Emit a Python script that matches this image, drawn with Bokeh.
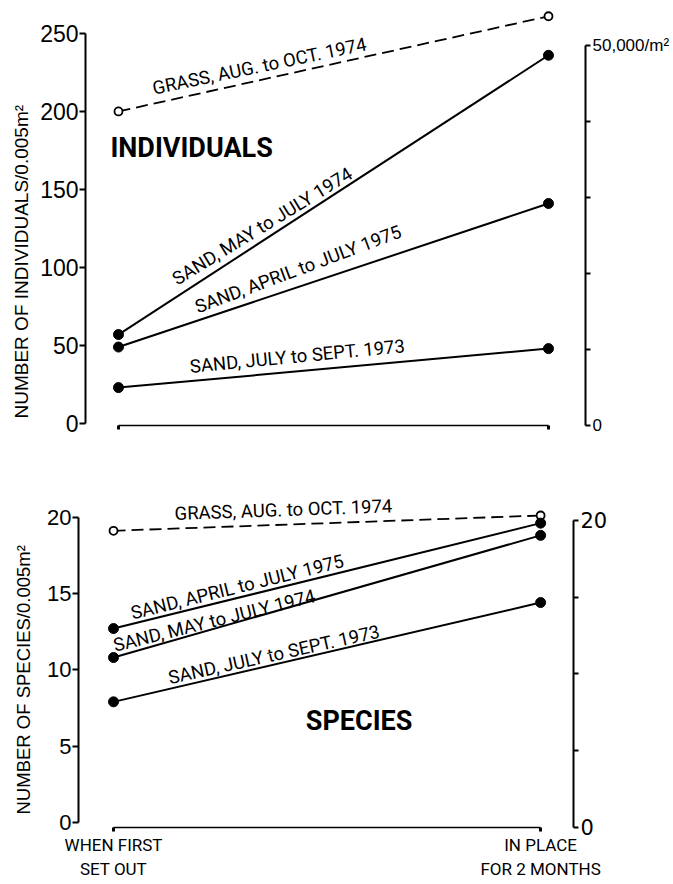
from bokeh.plotting import figure
from bokeh.models import Range1d, LinearAxis, Label, FixedTicker, Title
from bokeh.embed import file_html
from bokeh.resources import INLINE

# ---------------- data ----------------
stages = [0, 1]
stage_labels = ["WHEN FIRST\nSET OUT", "IN PLACE\nFOR 2 MONTHS"]

series_names = ["GRASS, AUG. to OCT. 1974", "SAND, MAY to JULY 1974",
                "SAND, APRIL to JULY 1975", "SAND, JULY to SEPT. 1973"]

ind_grass = [200, 261]
ind_may74 = [57, 236]
ind_apr75 = [49, 141]
ind_jul73 = [23, 48]

spp_grass = [19.1, 20.1]
spp_apr75 = [12.7, 19.6]
spp_may74 = [10.8, 18.8]
spp_jul73 = [7.9, 14.4]

ind_ticks = [0, 50, 100, 150, 200, 250]
dens_ticks = [0, 10000, 20000, 30000, 40000, 50000]
dens_labels = {0: "0", 10000: "", 20000: "", 30000: "", 40000: "", 50000: "50,000/m\u00b2"}
spp_ticks = [0, 5, 10, 15, 20]

LBL = "Roboto"
SANS = "Liberation Sans"
ROUND = "DejaVu Sans"
W = 673


def style_left(ax, size):
    ax.axis_line_width = 2
    ax.major_tick_line_width = 2
    ax.major_tick_in = 0
    ax.major_tick_out = 6
    ax.minor_tick_line_color = None
    ax.major_label_text_font = SANS
    ax.major_label_text_font_size = size
    ax.major_label_text_color = "black"
    ax.major_label_standoff = 1


def style_right(ax, font, size):
    ax.axis_line_width = 2
    ax.major_tick_line_width = 2
    ax.major_tick_in = 0
    ax.major_tick_out = 5
    ax.minor_tick_line_color = None
    ax.major_label_text_font = font
    ax.major_label_text_font_size = size
    ax.major_label_text_color = "black"
    ax.major_label_standoff = 2


def style_bottom(ax):
    ax.axis_line_width = 1.5
    ax.major_tick_line_width = 3
    ax.major_tick_in = 0
    ax.major_tick_out = 4
    ax.minor_tick_line_color = None
    ax.major_label_text_color = "black"


def add_text(p, x, y, text, angle, size="18.5px", font=LBL, style="normal"):
    p.add_layout(Label(x=x, y=y, text=text, angle=angle, angle_units="deg",
                       text_align="center", text_baseline="middle",
                       text_font=font, text_font_size=size,
                       text_font_style=style, text_color="black"))


def add_ytitle(p, text, size, offset, standoff):
    p.add_layout(Title(text=text, align="left", offset=offset, standoff=standoff,
                       text_font=SANS, text_font_size=size,
                       text_font_style="normal", text_color="black"), "left")


# ---------------- top panel: individuals ----------------
p1 = figure(width=W, height=440, output_backend="svg", toolbar_location=None,
            x_range=Range1d(-0.0767, 1.0861), y_range=Range1d(-1.28, 264.7),
            x_axis_type=None, y_axis_type=None,
            min_border_left=85, min_border_right=88,
            min_border_top=10, min_border_bottom=15)
p1.outline_line_color = None
p1.extra_y_ranges = {"dens": Range1d(-1, 54605)}

ly = LinearAxis(ticker=FixedTicker(ticks=ind_ticks), bounds=(0, 250))
style_left(ly, "23px")
p1.add_layout(ly, "left")
add_ytitle(p1, "NUMBER OF INDIVIDUALS/0.005m\u00b2", "19px", 7, 12)

ry = LinearAxis(y_range_name="dens", ticker=FixedTicker(ticks=dens_ticks),
                bounds=(0, 50000), major_label_overrides=dens_labels)
style_right(ry, SANS, "17px")
p1.add_layout(ry, "right")

bx = LinearAxis(ticker=FixedTicker(ticks=stages), bounds=(0, 1),
                major_label_overrides={0: "", 1: ""})
style_bottom(bx)
bx.major_label_text_font_size = "1px"
p1.add_layout(bx, "below")

p1.line(stages, ind_grass, line_color="black", line_width=1.8, line_dash="12 6")
p1.scatter(stages, ind_grass, size=8, fill_color="white", line_color="black", line_width=1.8)
for vals in (ind_may74, ind_apr75, ind_jul73):
    p1.line(stages, vals, line_color="black", line_width=2)
    p1.scatter(stages, vals, size=10, fill_color="black", line_color="black")

add_text(p1, 0.328, 228.8, series_names[0], 11.8)
add_text(p1, 0.335, 126.3, series_names[1], 31.5)
add_text(p1, 0.418, 98.7, series_names[2], 20.5)
add_text(p1, 0.416, 42.9, series_names[3], 5.5)
add_text(p1, 0.170, 176.3, "INDIVIDUALS", 0, size="27px", style="bold")

# ---------------- bottom panel: species ----------------
p2 = figure(width=W, height=441, output_backend="svg", toolbar_location=None,
            x_range=Range1d(-0.082, 1.077), y_range=Range1d(-0.326, 21.41),
            x_axis_type=None, y_axis_type=None,
            min_border_left=78, min_border_right=100,
            min_border_top=55, min_border_bottom=53)
p2.outline_line_color = None
p2.extra_y_ranges = {"spp_r": Range1d(-0.001, 21.62)}

ly2 = LinearAxis(ticker=FixedTicker(ticks=spp_ticks), bounds=(0, 20))
style_left(ly2, "22px")
p2.add_layout(ly2, "left")
add_ytitle(p2, "NUMBER OF SPECIES/0.005m\u00b2", "18.5px", 13, 21)

ry2 = LinearAxis(y_range_name="spp_r", ticker=FixedTicker(ticks=spp_ticks),
                 bounds=(0, 20),
                 major_label_overrides={5: "", 10: "", 15: ""})
style_right(ry2, ROUND, "21px")
p2.add_layout(ry2, "right")

bx2 = LinearAxis(ticker=FixedTicker(ticks=stages), bounds=(0, 1),
                 major_label_overrides={0: stage_labels[0], 1: stage_labels[1]})
style_bottom(bx2)
bx2.major_label_text_font = LBL
bx2.major_label_text_font_size = "17px"
bx2.major_label_standoff = 3
p2.add_layout(bx2, "below")

p2.line(stages, spp_grass, line_color="black", line_width=1.8, line_dash="12 6")
p2.scatter(stages, spp_grass, size=8, fill_color="white", line_color="black", line_width=1.8)
for vals in (spp_apr75, spp_may74, spp_jul73):
    p2.line(stages, vals, line_color="black", line_width=2)
    p2.scatter(stages, vals, size=10, fill_color="black", line_color="black")

add_text(p2, 0.398, 20.45, series_names[0], 2)
add_text(p2, 0.290, 15.4, series_names[2], 14)
add_text(p2, 0.236, 13.2, series_names[1], 14)
add_text(p2, 0.376, 10.97, series_names[3], 12.5)
add_text(p2, 0.575, 6.66, "SPECIES", 0, size="27px", style="bold")

# two independent roots, stacked, so each panel keeps its own borders
open("out.html", "w").write(file_html([p1, p2], INLINE))
